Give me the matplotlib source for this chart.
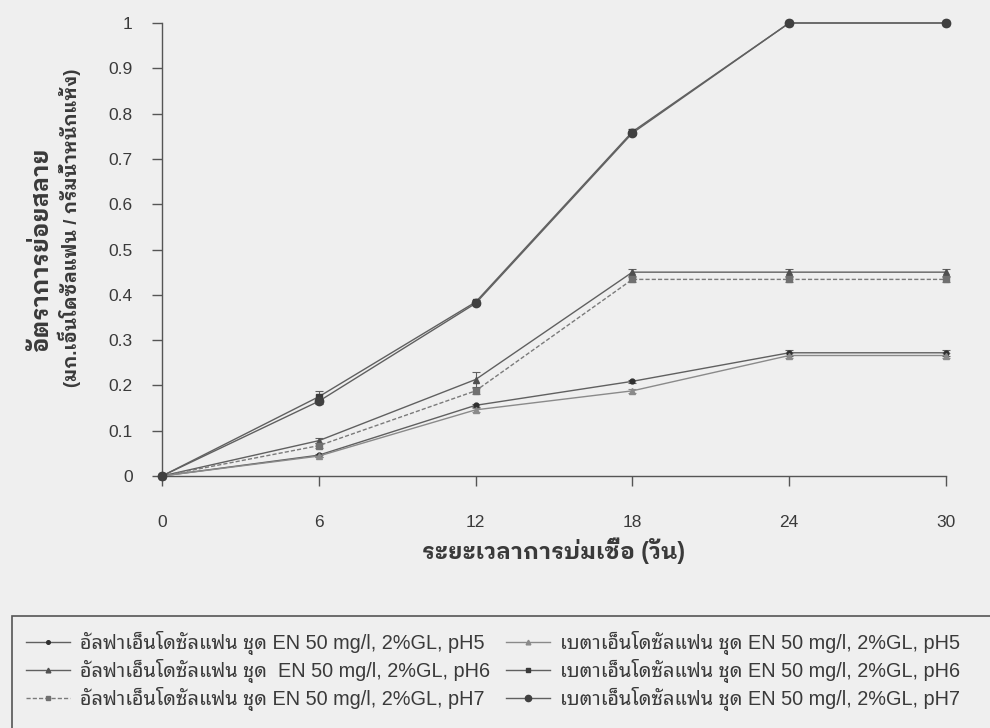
import matplotlib
matplotlib.use('Agg')
import matplotlib.pyplot as plt
from matplotlib.patches import Rectangle

FONT = ['Liberation Sans', 'Noto Sans Thai Looped', 'DejaVu Sans']
BOLDFONT = ['Liberation Sans', 'IBM Plex Sans Thai Looped', 'Noto Sans Thai Looped', 'DejaVu Sans']
plt.rcParams['font.family'] = FONT

days = [0, 6, 12, 18, 24, 30]
alpha_ph5 = [0, 0.046, 0.156, 0.209, 0.272, 0.272]
alpha_ph6 = [0, 0.078, 0.213, 0.450, 0.450, 0.450]
alpha_ph7 = [0, 0.067, 0.188, 0.434, 0.434, 0.434]
beta_ph5 = [0, 0.044, 0.146, 0.188, 0.266, 0.266]
beta_ph6 = [0, 0.175, 0.384, 0.760, 1.0, 1.0]
beta_ph7 = [0, 0.165, 0.381, 0.757, 1.0, 1.0]

err_alpha_ph5 = [0, 0.003, 0.004, 0.004, 0.006, 0.006]
err_alpha_ph6 = [0, 0.006, 0.016, 0.008, 0.008, 0.008]
err_alpha_ph7 = [0, 0.005, 0.006, 0.006, 0.006, 0.006]
err_beta_ph5 = [0, 0.003, 0.004, 0.004, 0.006, 0.006]
err_beta_ph6 = [0, 0.012, 0.004, 0.005, 0.0, 0.0]
err_beta_ph7 = [0, 0.006, 0.004, 0.005, 0.0, 0.0]

labels = [
    'อัลฟาเอ็นโดซัลแฟน ชุด EN 50 mg/l, 2%GL, pH5',
    'อัลฟาเอ็นโดซัลแฟน ชุด  EN 50 mg/l, 2%GL, pH6',
    'อัลฟาเอ็นโดซัลแฟน ชุด EN 50 mg/l, 2%GL, pH7',
    'เบตาเอ็นโดซัลแฟน ชุด EN 50 mg/l, 2%GL, pH5',
    'เบตาเอ็นโดซัลแฟน ชุด EN 50 mg/l, 2%GL, pH6',
    'เบตาเอ็นโดซัลแฟน ชุด EN 50 mg/l, 2%GL, pH7',
]
xticks = [0, 6, 12, 18, 24, 30]
yticks = [0, 0.1, 0.2, 0.3, 0.4, 0.5, 0.6, 0.7, 0.8, 0.9, 1]
ytick_labels = ['0', '0.1', '0.2', '0.3', '0.4', '0.5', '0.6', '0.7', '0.8', '0.9', '1']
xlabel = 'ระยะเวลาการบ่มเชื้อ (วัน)'
ylabel1 = 'อัตราการย่อยสลาย'
ylabel2 = '(มก.เอ็นโดซัลแฟน / กรัมน้ำหนักแห้ง)'

BG = '#efefef'
TXT = '#3a3a3a'
W, H = 990, 728

fig = plt.figure(figsize=(9.9, 7.28), dpi=100, facecolor=BG)
ax = fig.add_axes([162 / W, 1 - 476 / H, (946 - 162) / W, (476 - 23) / H])
ax.set_facecolor(BG)

series = [
    (alpha_ph5, err_alpha_ph5, dict(color='#606060', ls='-', lw=1.0, marker='o', ms=3.5, mfc='#303030', mec='#303030')),
    (alpha_ph6, err_alpha_ph6, dict(color='#606060', ls='-', lw=1.0, marker='^', ms=4.5, mfc='#505050', mec='#505050')),
    (alpha_ph7, err_alpha_ph7, dict(color='#7a7a7a', ls=(0, (3, 1.5)), lw=1.0, marker='s', ms=4.5, mfc='#707070', mec='#707070')),
    (beta_ph5, err_beta_ph5, dict(color='#8a8a8a', ls='-', lw=1.0, marker='^', ms=4.5, mfc='#8a8a8a', mec='#8a8a8a')),
    (beta_ph6, err_beta_ph6, dict(color='#606060', ls='-', lw=1.0, marker='s', ms=4.8, mfc='#3a3a3a', mec='#3a3a3a')),
    (beta_ph7, err_beta_ph7, dict(color='#606060', ls='-', lw=1.0, marker='o', ms=6.0, mfc='#404040', mec='#404040')),
]
handles = []
for (vals, err, st), lab in zip(series, labels):
    eb = ax.errorbar(days, vals, yerr=err, capsize=3, elinewidth=0.8, ecolor=st['color'],
                     capthick=0.8, label=lab, clip_on=False, zorder=3, **st)
    for a in eb.get_children():
        a.set_clip_on(False)
    handles.append(eb.lines[0])

ax.set_xlim(0, 30)
ax.set_ylim(0, 1)
ax.set_xticks(xticks)
ax.set_xticklabels([str(t) for t in xticks])
ax.set_yticks(yticks)
ax.set_yticklabels(ytick_labels)
for s in ['top', 'right']:
    ax.spines[s].set_visible(False)
for s in ['left', 'bottom']:
    ax.spines[s].set_color('#555555')
    ax.spines[s].set_linewidth(1.0)
ax.tick_params(axis='y', direction='out', length=7, width=1.0, color='#555555', pad=14, labelsize=12.5, labelcolor=TXT)
ax.tick_params(axis='x', direction='out', length=7, width=1.0, color='#555555', pad=21, labelsize=12.5, labelcolor=TXT)

fig.text(554 / W, 1 - 551 / H, xlabel, ha='center', va='center', fontsize=16.5, fontweight='bold',
         color=TXT, family=BOLDFONT)
fig.text(42 / W, 1 - 250 / H, ylabel1, ha='center', va='center', rotation=90, fontsize=17,
         fontweight='bold', color=TXT, family=BOLDFONT)
fig.text(69 / W, 1 - 228 / H, ylabel2, ha='center', va='center', rotation=90, fontsize=13.5,
         fontweight='bold', color=TXT, family=BOLDFONT)

# legend frame
fig.patches.append(Rectangle((12 / W, -0.05), 1.1, (1 - 616 / H) + 0.05, transform=fig.transFigure,
                             fill=False, edgecolor='#555555', lw=1.2))

common = dict(frameon=False, fontsize=14.3, handlelength=2.2, handletextpad=0.5, labelspacing=0.2,
              borderpad=0, borderaxespad=0, loc='upper left', labelcolor=TXT, markerscale=0.75)
leg1 = fig.legend(handles=handles[:3], labels=labels[:3], bbox_to_anchor=(26 / W, 1 - 631 / H), **common)
leg2 = fig.legend(handles=handles[3:], labels=labels[3:], bbox_to_anchor=(506 / W, 1 - 631 / H), **common)

fig.savefig('out.png', dpi=100, facecolor=BG)
